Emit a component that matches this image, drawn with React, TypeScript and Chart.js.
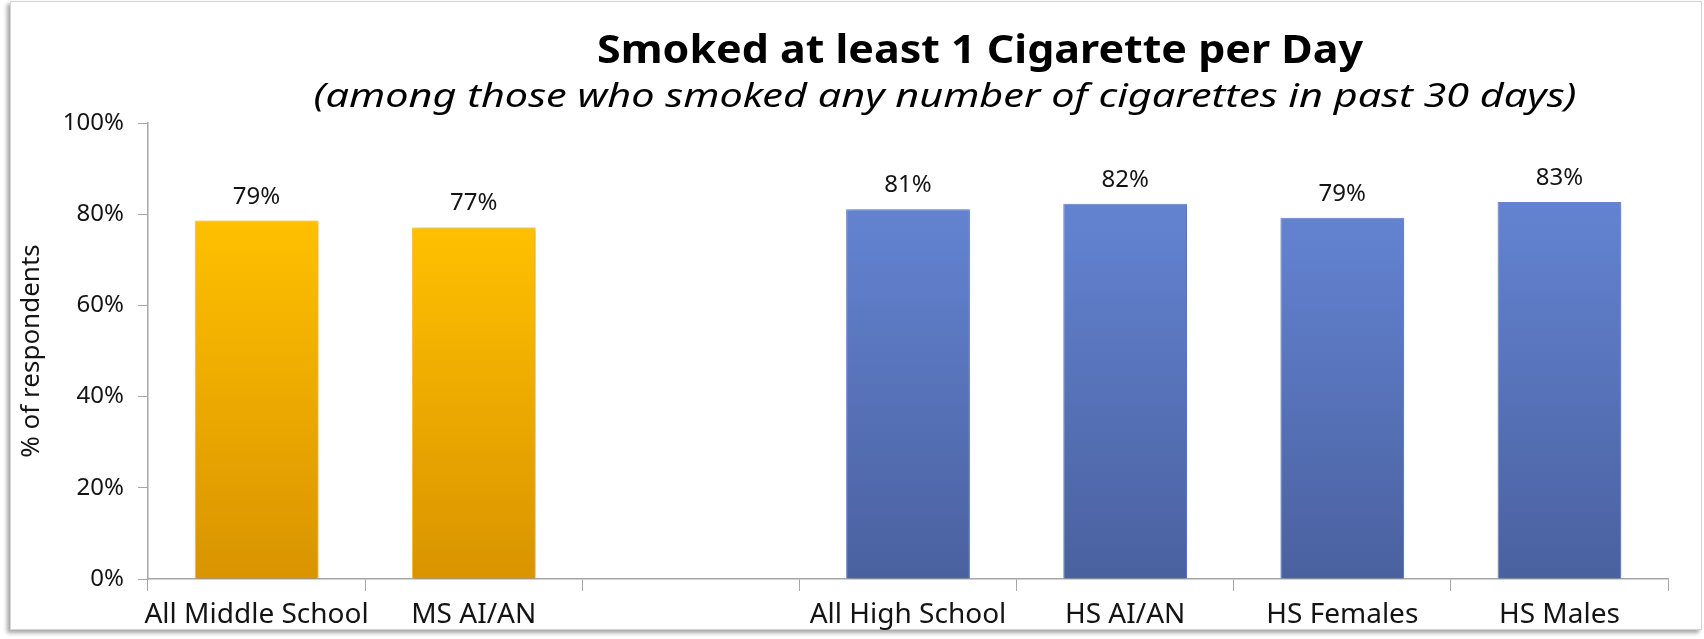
import React, { useEffect, useRef } from 'react';
import { Chart, registerables } from 'chart.js';

Chart.register(...registerables);

const categories = ['All Middle School', 'MS AI/AN', '', 'All High School', 'HS AI/AN', 'HS Females', 'HS Males'];
const values: (number | null)[] = [78.6, 77.1, null, 81.1, 82.3, 79.2, 82.7];
const groups = ['MS', 'MS', '', 'HS', 'HS', 'HS', 'HS'];
const yTicks = [0, 20, 40, 60, 80, 100];
const titleText = 'Smoked at least 1 Cigarette per Day';
const subtitleText = '(among those who smoked any number of cigarettes in past 30 days)';
const yAxisTitle = '% of respondents';

const FONT = '"Noto Sans", "Open Sans", sans-serif';
const TEXT = '#141414';
const AXIS = '#a6a6a6';

const palettes: Record<string, { top: string; bottom: string; edge: string }> = {
  MS: { top: '#FFC000', bottom: '#D99400', edge: '#FFC61A' },
  HS: { top: '#6383D2', bottom: '#4A619F', edge: '#6B8AD6' },
};

function barFill(c: any) {
  const pal = palettes[groups[c.dataIndex]] || palettes.HS;
  const chart = c.chart;
  const area = chart.chartArea;
  const v = c.raw;
  if (!area || v == null || !chart.scales.y) return pal.top;
  const yTop = chart.scales.y.getPixelForValue(v);
  const g = chart.ctx.createLinearGradient(0, yTop, 0, area.bottom);
  g.addColorStop(0, pal.top);
  g.addColorStop(1, pal.bottom);
  return g;
}

function fitText(ctx: CanvasRenderingContext2D, text: string, cx: number, baseline: number, width: number) {
  const w = ctx.measureText(text).width;
  ctx.save();
  ctx.translate(cx, baseline);
  ctx.scale(width / w, 1);
  ctx.fillText(text, 0, 0);
  ctx.restore();
}

const decor = {
  id: 'decor',
  beforeDatasetsDraw(chart: any) {
    const ctx = chart.ctx;
    ctx.save();
    ctx.shadowColor = 'rgba(0,0,0,0.28)';
    ctx.shadowBlur = 5;
    ctx.shadowOffsetX = 2;
    ctx.shadowOffsetY = 1;
  },
  afterDatasetsDraw(chart: any) {
    const ctx = chart.ctx;
    ctx.restore();
    const meta = chart.getDatasetMeta(0);
    ctx.save();
    ctx.font = `24px ${FONT}`;
    ctx.fillStyle = TEXT;
    ctx.textAlign = 'center';
    ctx.textBaseline = 'alphabetic';
    meta.data.forEach((bar: any, i: number) => {
      const v = values[i];
      if (v == null) return;
      ctx.fillText(`${Math.round(v)}%`, bar.x, bar.y - 17);
    });
    ctx.restore();
  },
  afterDraw(chart: any) {
    const ctx = chart.ctx;
    ctx.save();
    ctx.fillStyle = '#000';
    ctx.textAlign = 'center';
    ctx.textBaseline = 'alphabetic';
    ctx.font = `bold 40px ${FONT}`;
    fitText(ctx, titleText, 980, 63, 766);
    ctx.font = `italic 33px ${FONT}`;
    fitText(ctx, subtitleText, 945, 107, 1263);
    ctx.restore();
  },
};

export default function App() {
  const ref = useRef<HTMLCanvasElement | null>(null);
  useEffect(() => {
    if (!ref.current) return;
    const chart = new Chart(ref.current, {
      type: 'bar',
      data: {
        labels: categories,
        datasets: [
          {
            data: values,
            backgroundColor: barFill as any,
            borderColor: (c: any) => (palettes[groups[c.dataIndex]] || palettes.HS).edge,
            borderWidth: 1,
            barPercentage: 0.57,
            categoryPercentage: 1,
          },
        ],
      },
      options: {
        animation: false,
        responsive: false,
        layout: { padding: { left: 10, right: 36, top: 123, bottom: 0 } },
        plugins: {
          legend: { display: false },
          tooltip: { enabled: false },
          title: { display: false },
        },
        scales: {
          x: {
            grid: { display: true, drawOnChartArea: false, offset: true, color: AXIS, tickLength: 12 },
            border: { color: AXIS, width: 1.5 },
            ticks: { font: { family: FONT, size: 28 }, color: TEXT, padding: 7, maxRotation: 0, autoSkip: false },
            afterFit: (s: any) => {
              s.height = 60;
            },
          },
          y: {
            min: 0,
            max: 100,
            afterBuildTicks: (s: any) => {
              s.ticks = yTicks.map((v) => ({ value: v }));
            },
            ticks: { callback: (v: any) => `${v}%`, font: { family: FONT, size: 24 }, color: TEXT, padding: 14 },
            grid: { display: true, drawOnChartArea: false, color: AXIS, tickLength: 10 },
            border: { color: AXIS, width: 1.5 },
            title: {
              display: true,
              text: yAxisTitle,
              font: { family: FONT, size: 26 },
              color: TEXT,
              padding: { top: 6, bottom: 0 },
            },
            afterFit: (s: any) => {
              s.width = 138;
            },
          },
        },
      },
      plugins: [decor],
    });
    return () => chart.destroy();
  }, []);

  return (
    <div style={{ position: 'absolute', left: 0, top: 0, width: 1704, height: 639, background: '#fff' }}>
      <div
        style={{
          position: 'absolute',
          left: 10,
          top: 1,
          width: 1690,
          height: 627,
          border: '1px solid #d4d4d4',
          boxShadow: '-3px 3px 4px rgba(0,0,0,0.35)',
          background: '#fff',
        }}
      />
      <canvas ref={ref} width={1704} height={639} style={{ position: 'absolute', left: 0, top: 0 }} />
    </div>
  );
}
